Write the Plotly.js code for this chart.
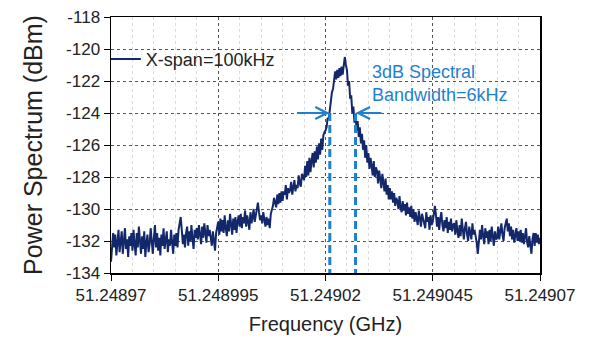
<!DOCTYPE html>
<html>
<head>
<meta charset="utf-8">
<script src="https://cdn.plot.ly/plotly-3.0.1.min.js"></script>
<style>html,body{margin:0;padding:0;background:#fff;}#chart{width:590px;height:344px;}</style>
</head>
<body>
<div id="chart"></div>
<script>
// Frequency sampling of the trace (GHz): start, step
var freqStart = 51.24897;
var freqStep = 0.00000025;

// Power spectrum (dBm), one value per frequency sample
var powerDbm = [
-133.3,-132.6,-131.5,-132.4,-131.6,-132.9,-131.8,-131.3,-132.7,-132.2,-131.4,-132.8,-132.0,-131.2,-132.5,-131.9,-133.0,-131.7,-132.3,-131.5,
-132.6,-131.3,-132.2,-132.9,-131.5,-132.4,-131.1,-132.0,-132.8,-131.7,-132.5,-131.4,-133.0,-132.1,-131.6,-132.7,-132.2,-131.2,-132.3,-132.8,
-131.8,-131.0,-132.4,-131.5,-132.6,-131.8,-132.9,-131.6,-132.3,-131.2,-132.5,-132.0,-131.4,-132.7,-131.9,-132.3,-131.3,-132.1,-132.8,-131.6,
-132.3,-131.5,-132.4,-131.3,-130.9,-130.5,-131.3,-132.2,-131.6,-132.4,-131.5,-131.1,-132.3,-131.4,-132.0,-131.0,-131.9,-132.5,-131.3,-131.8,
-131.2,-131.9,-131.0,-131.7,-132.2,-131.1,-131.8,-130.9,-131.6,-132.1,-131.0,-131.7,-131.3,-131.9,-132.3,-131.4,-132.2,-132.6,-131.5,-131.1,
-130.8,-131.6,-130.6,-131.4,-130.7,-131.5,-130.4,-131.2,-131.7,-130.7,-131.4,-130.3,-131.1,-131.6,-130.6,-131.3,-130.5,-131.5,-130.8,-130.4,
-131.1,-130.3,-131.2,-130.5,-130.9,-130.1,-131.1,-130.4,-130.8,-131.3,-130.2,-130.9,-130.5,-130.0,-130.8,-130.3,-129.9,-129.6,-130.2,-130.7,
-130.4,-130.9,-130.2,-130.7,-131.1,-130.5,-131.0,-130.6,-131.2,-130.3,-130.1,-129.8,-129.3,-129.6,-129.9,-129.1,-129.7,-129.0,-129.6,-128.9,
-129.5,-128.9,-129.1,-128.5,-129.4,-128.7,-129.0,-128.8,-128.3,-129.1,-128.6,-128.2,-128.9,-128.5,-128.7,-127.9,-128.4,-128.6,-127.8,-128.1,
-128.2,-127.3,-128.0,-127.0,-127.9,-126.8,-127.7,-127.0,-126.5,-127.4,-126.4,-127.1,-126.1,-126.9,-125.9,-126.6,-125.6,-126.3,-125.4,-125.2,
-125.1,-124.9,-124.3,-124.4,-123.7,-123.4,-122.7,-122.5,-121.8,-121.4,-121.9,-121.3,-121.8,-121.2,-121.7,-121.1,-121.6,-120.9,-120.5,-121.0,
-121.3,-122.3,-122.0,-123.1,-122.9,-124.0,-123.6,-124.6,-124.1,-125.1,-124.5,-125.5,-124.9,-125.9,-125.3,-126.3,-125.7,-126.8,-126.0,-127.1,
-126.5,-127.5,-126.8,-127.3,-127.9,-127.0,-128.0,-127.4,-127.6,-128.4,-127.6,-128.1,-128.7,-127.8,-128.5,-128.9,-128.1,-129.1,-128.5,-129.4,
-128.7,-129.4,-128.9,-129.6,-129.0,-129.8,-129.3,-129.5,-130.0,-129.2,-129.9,-130.2,-129.5,-130.1,-129.7,-130.4,-129.6,-130.3,-129.9,-130.5,
-129.8,-130.6,-130.0,-130.8,-130.2,-130.5,-131.0,-130.1,-130.7,-131.1,-130.3,-130.6,-130.9,-131.2,-130.2,-130.8,-130.5,-131.3,-130.4,-131.0,
-130.8,-130.2,-129.8,-130.4,-131.1,-130.5,-131.3,-130.6,-130.2,-131.0,-131.4,-130.7,-131.2,-130.5,-131.5,-130.8,-131.3,-130.6,-131.4,-131.0,
-130.9,-131.6,-130.7,-131.4,-131.8,-131.0,-131.7,-130.6,-131.3,-131.9,-131.2,-130.8,-131.6,-132.0,-131.1,-131.5,-131.9,-130.9,-131.6,-131.3,
-131.7,-132.1,-132.8,-132.2,-131.3,-131.9,-131.0,-131.7,-132.2,-131.2,-131.8,-131.4,-132.2,-131.3,-132.0,-131.1,-131.7,-132.3,-131.4,-131.9,
-131.8,-131.1,-131.9,-131.3,-130.9,-131.6,-132.0,-131.2,-130.8,-130.6,-131.4,-130.9,-131.7,-131.1,-131.9,-131.3,-132.1,-131.7,-131.2,-132.0,
-131.4,-132.0,-131.3,-132.1,-131.5,-132.2,-131.6,-131.2,-132.1,-132.4,-131.7,-132.5,-132.8,-131.9,-131.5,-132.3,-131.5,-132.1,-131.6,-132.2,
-131.8
];

// 3 dB bandwidth markers (GHz) and levels (dBm)
var bwLeftFreq = 51.249021;
var bwRightFreq = 51.249027;
var bwLevel = -124;
var bwFloor = -134;
var arrowTailLeft = 51.249013;
var arrowTailRight = 51.2490334;

// Axis ticks
var xTickVals = [51.24897, 51.248995, 51.24902, 51.249045, 51.24907];
var xTickText = ["51.24897", "51.248995", "51.24902", "51.249045", "51.24907"];
var yTickVals = [-134, -132, -130, -128, -126, -124, -122, -120, -118];
var yTickText = ["-134", "-132", "-130", "-128", "-126", "-124", "-122", "-120", "-118"];

var seriesName = "X-span=100kHz";
var noteText = "3dB Spectral<br>Bandwidth=6kHz";

var freqs = powerDbm.map(function (v, i) { return freqStart + i * freqStep; });

var navy = '#12286a';
var blue = '#1f80d0';
var FONT = 'Liberation Sans, Arial, sans-serif';

var traces = [
  {
    x: freqs, y: powerDbm, type: 'scatter', mode: 'lines',
    name: seriesName, line: {color: navy, width: 2}, showlegend: true
  },
  {
    x: [bwLeftFreq, bwLeftFreq], y: [bwLevel, bwFloor], type: 'scatter', mode: 'lines',
    line: {color: blue, width: 3, dash: '8px,4px'}, showlegend: false
  },
  {
    x: [bwRightFreq, bwRightFreq], y: [bwLevel, bwFloor], type: 'scatter', mode: 'lines',
    line: {color: blue, width: 3, dash: '8px,4px'}, showlegend: false
  }
];

var layout = {
  width: 590, height: 344,
  margin: {l: 111, r: 50, t: 17, b: 71, pad: 0},
  paper_bgcolor: '#ffffff', plot_bgcolor: '#ffffff',
  font: {family: FONT, size: 17, color: '#222'},
  showlegend: true,
  legend: {x: -0.012, y: 0.835, xanchor: 'left', yanchor: 'middle', bgcolor: 'rgba(0,0,0,0)',
           font: {family: FONT, size: 18, color: '#222'}, itemwidth: 30},
  xaxis: {
    range: [51.24897, 51.24907], tickvals: xTickVals, ticktext: xTickText,
    showline: true, linecolor: '#000', linewidth: 1.5, mirror: true,
    ticks: 'outside', ticklen: 6, tickcolor: '#000', tickwidth: 1,
    showgrid: true, gridcolor: '#555', gridwidth: 1, griddash: '3px,3px',
    minor: {dtick: 0.000005, tick0: 51.24897, showgrid: true, gridcolor: '#dadada', gridwidth: 1, ticks: ''},
    zeroline: false,
    tickfont: {family: FONT, size: 17, color: '#222'},
    title: {text: 'Frequency (GHz)', font: {family: FONT, size: 20, color: '#222'}, standoff: 13}
  },
  yaxis: {
    range: [-134, -118], tickvals: yTickVals, ticktext: yTickText,
    showline: true, linecolor: '#000', linewidth: 1.5, mirror: true,
    ticks: 'outside', ticklen: 6, tickcolor: '#000', tickwidth: 1,
    showgrid: true, gridcolor: '#555', gridwidth: 1, griddash: '3px,3px',
    zeroline: false,
    tickfont: {family: FONT, size: 17, color: '#222'},
    title: {text: 'Power Spectrum (dBm)', font: {family: FONT, size: 25, color: '#222'}, standoff: 16}
  },
  annotations: [
    {x: 0.603, y: 0.74, xref: 'paper', yref: 'paper', xanchor: 'left', yanchor: 'middle', align: 'left',
     text: noteText, showarrow: false, font: {family: FONT, size: 18, color: blue}},
    {x: bwLeftFreq, y: bwLevel, xref: 'x', yref: 'y', ax: arrowTailLeft, ay: bwLevel, axref: 'x', ayref: 'y',
     text: '', showarrow: true, arrowhead: 5, arrowsize: 1.3, arrowwidth: 1.8, arrowcolor: blue, standoff: 0},
    {x: bwRightFreq, y: bwLevel, xref: 'x', yref: 'y', ax: arrowTailRight, ay: bwLevel, axref: 'x', ayref: 'y',
     text: '', showarrow: true, arrowhead: 5, arrowsize: 1.3, arrowwidth: 1.8, arrowcolor: blue, standoff: 0}
  ]
};

Plotly.newPlot('chart', traces, layout, {displayModeBar: false, staticPlot: true});
</script>
</body>
</html>
